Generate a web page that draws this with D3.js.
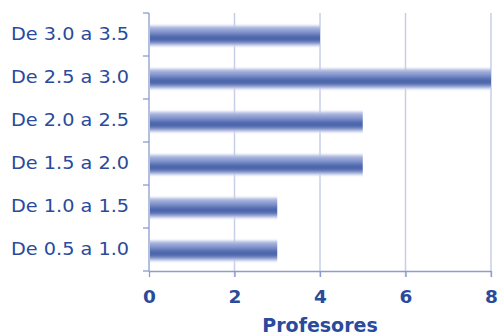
<!DOCTYPE html>
<html>
<head>
<meta charset="utf-8">
<script src="https://cdn.jsdelivr.net/npm/d3@7"></script>
<style>
  html, body { margin: 0; padding: 0; background: #fff; }
  svg { display: block; }
  svg text { font-family: 'DejaVu Sans', Verdana, sans-serif; }
</style>
</head>
<body>
<div id="chart"></div>
<script>
// Number of teachers per range
const categories = ["De 3.0 a 3.5", "De 2.5 a 3.0", "De 2.0 a 2.5", "De 1.5 a 2.0", "De 1.0 a 1.5", "De 0.5 a 1.0"];
const profesores = [4, 8, 5, 5, 3, 3];
const xTicks = [0, 2, 4, 6, 8];
const xTitle = "Profesores";

const W = 499, H = 335;
const margin = { top: 13, right: 8, bottom: 64, left: 149 };
const textColor = "#2a4a9c";
const fontFam = "'DejaVu Sans', Verdana, sans-serif";

const svg = d3.select("#chart").append("svg")
  .attr("width", W).attr("height", H);

const defs = svg.append("defs");
const grad = defs.append("linearGradient")
  .attr("id", "barGrad").attr("x1", 0).attr("y1", 0).attr("x2", 0).attr("y2", 1);
[
  [0, "#ccd4ec"], [0.12, "#a6b3dd"], [0.35, "#7a8dc8"], [0.55, "#4b64ab"],
  [0.72, "#516aae"], [0.86, "#94a3d4"], [1, "#e8ecf7"]
].forEach(([o, c]) => grad.append("stop").attr("offset", o).attr("stop-color", c));

const soft = defs.append("filter").attr("id", "soft")
  .attr("x", "-5%").attr("y", "-30%").attr("width", "110%").attr("height", "160%");
soft.append("feGaussianBlur").attr("stdDeviation", "0.6 1");

const x = d3.scaleLinear().domain([0, 8]).range([margin.left, W - margin.right]);
const y = d3.scaleBand().domain(categories).range([margin.top, H - margin.bottom]);

// vertical grid lines
svg.append("g").selectAll("line").data(xTicks.filter(d => d > 0)).join("line")
  .attr("x1", d => x(d)).attr("x2", d => x(d))
  .attr("y1", margin.top).attr("y2", H - margin.bottom + 6)
  .attr("stroke", "#c6cfe7").attr("stroke-width", 1.5);

// bars
const barH = 21;
svg.append("g").attr("filter", "url(#soft)")
  .selectAll("rect").data(categories).join("rect")
  .attr("x", x(0) + 1)
  .attr("y", d => y(d) + y.bandwidth() / 2 - barH / 2 + 1.5)
  .attr("width", (d, i) => x(profesores[i]) - x(0) - 1)
  .attr("height", barH)
  .attr("fill", "url(#barGrad)");

// x axis
const xAxis = svg.append("g")
  .attr("transform", `translate(0,${H - margin.bottom})`)
  .call(d3.axisBottom(x).tickValues(xTicks).tickSize(6).tickPadding(13).tickSizeOuter(0));
xAxis.attr("font-family", fontFam);
xAxis.select(".domain").attr("stroke", "#8c9dcd").attr("stroke-width", 1.3);
xAxis.selectAll(".tick line").attr("stroke", "#8c9dcd").attr("stroke-width", 1.3);
xAxis.selectAll(".tick text").attr("fill", textColor)
  .style("font-size", "18.5px").style("font-weight", "bold");

// y axis
const yAxis = svg.append("g")
  .attr("transform", `translate(${margin.left},0)`)
  .call(d3.axisLeft(y).tickSize(0).tickPadding(20));
yAxis.attr("font-family", fontFam);
yAxis.select(".domain").remove();
yAxis.append("line")
  .attr("x1", 0).attr("x2", 0).attr("y1", margin.top).attr("y2", H - margin.bottom)
  .attr("stroke", "#8c9dcd").attr("stroke-width", 1.3);
const bounds = [margin.top, ...categories.map(c => y(c) + y.bandwidth())];
yAxis.selectAll(".sep").data(bounds).join("line").attr("class", "sep")
  .attr("x1", -6).attr("x2", 0).attr("y1", d => d).attr("y2", d => d)
  .attr("stroke", "#8c9dcd").attr("stroke-width", 1.3);
yAxis.selectAll(".tick text").attr("fill", textColor)
  .style("font-size", "17.5px")
  .attr("dy", "0.3em")
  .attr("textLength", 118)
  .attr("lengthAdjust", "spacingAndGlyphs");

// axis title
svg.append("text")
  .attr("x", x(4)).attr("y", H - 3)
  .attr("text-anchor", "middle")
  .attr("fill", textColor)
  .style("font-size", "19px").style("font-weight", "bold")
  .text(xTitle);
</script>
</body>
</html>
